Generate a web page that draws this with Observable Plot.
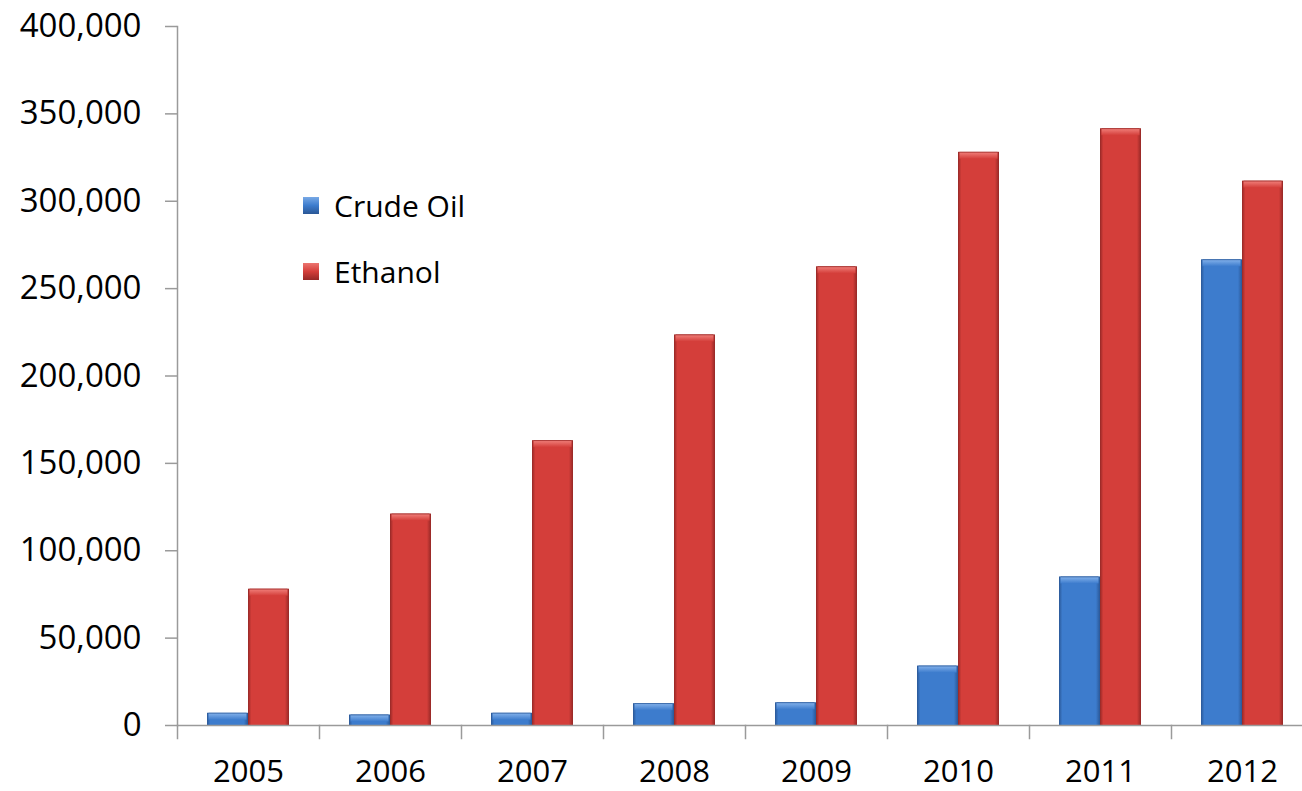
<!DOCTYPE html>
<html>
<head>
<meta charset="utf-8">
<script src="https://cdn.jsdelivr.net/npm/d3@7"></script>
<script src="https://cdn.jsdelivr.net/npm/@observablehq/plot@0.6"></script>
<style>
  html, body { margin: 0; padding: 0; overflow: hidden; background: #fff; }
  #wrap { position: relative; width: 1302px; height: 791px; overflow: hidden; font-family: "Open Sans", Lato, sans-serif; }
  #wrap svg { max-width: none !important; height: 791px !important; display: block; }
  #legend { position: absolute; left: 303px; top: 184px; font-size: 30px; color: #000; }
  .item { display: flex; align-items: center; height: 42px; margin-bottom: 24px; }
  .sw { width: 16px; height: 17px; margin-right: 15px; }
</style>
</head>
<body>
<div id="wrap"><div id="legend"></div></div>
<script>
const years = ["2005", "2006", "2007", "2008", "2009", "2010", "2011", "2012"];
const series = ["Crude Oil", "Ethanol"];
const crudeOil = [7000, 6000, 7000, 12500, 13000, 34000, 85000, 266500];
const ethanol = [78000, 121000, 163000, 223500, 262500, 328000, 341500, 311500];
const yTicks = [0, 50000, 100000, 150000, 200000, 250000, 300000, 350000, 400000];
const seriesColors = ["#3d7ccd", "#d43e3a"];
const seriesEdges = ["#2a5796", "#952826"];
const seriesLights = ["#78a9e6", "#ec7570"];

const rows = years.flatMap((year, i) => [
  {year, series: series[0], value: crudeOil[i]},
  {year, series: series[1], value: ethanol[i]}
]);

const gradIds = ["gradCrude", "gradEthanol"];
const topIds = ["topCrude", "topEthanol"];
const W = 1315, H = 791, ML = 174, MT = 26, MB = 66;
const axisColor = "#9a9a9a";
const topFill = Object.fromEntries(series.map((s, i) => [s, `url(#${topIds[i]})`]));

const chart = Plot.plot({
  width: W,
  height: H,
  marginLeft: ML,
  marginRight: 0,
  marginTop: MT,
  marginBottom: MB,
  style: {fontFamily: "'Open Sans', Lato, sans-serif", color: "#000", background: "#fff"},
  fx: {domain: years, padding: 0, label: null},
  x: {domain: series, paddingInner: 0, paddingOuter: 0.72, axis: null},
  y: {domain: [0, 400000], label: null},
  color: {domain: series, range: gradIds.map(id => `url(#${id})`)},
  marks: [
    Plot.barY(rows, {fx: "year", x: "series", y: "value", fill: "series"}),
    Plot.barY(rows, {fx: "year", x: "series", y1: "value", y2: "value", insetBottom: -7, insetLeft: 1.5, insetRight: 1.5, fill: d => topFill[d.series]}),
    Plot.ruleY([0], {stroke: axisColor, strokeWidth: 1.5}),
    Plot.frame({anchor: "left", stroke: axisColor, strokeWidth: 1.5, insetTop: H - MT - MB, insetBottom: -13}),
    Plot.frame({anchor: "left", stroke: axisColor, strokeWidth: 1.5, fx: "2005"}),
    Plot.axisY({ticks: yTicks, tickFormat: d3.format(","), tickSize: 12, tickPadding: 24, fontSize: 33, stroke: axisColor, strokeWidth: 1.5, label: null}),
    Plot.axisFx({anchor: "bottom", tickSize: 0, tickPadding: 34, fontSize: 31, label: null})
  ]
});

const defs = gradIds.map((id, i) => `
  <linearGradient id="${id}" x1="0" x2="1" y1="0" y2="0">
    <stop offset="0" stop-color="${seriesEdges[i]}"/>
    <stop offset="0.08" stop-color="${seriesColors[i]}"/>
    <stop offset="0.9" stop-color="${seriesColors[i]}"/>
    <stop offset="1" stop-color="${seriesEdges[i]}"/>
  </linearGradient>
  <linearGradient id="${topIds[i]}" x1="0" x2="0" y1="0" y2="1">
    <stop offset="0" stop-color="${seriesEdges[i]}"/>
    <stop offset="0.2" stop-color="${seriesLights[i]}"/>
    <stop offset="1" stop-color="${seriesColors[i]}"/>
  </linearGradient>`).join("");
chart.insertAdjacentHTML("afterbegin", `<defs>${defs}</defs>`);

const wrap = document.getElementById("wrap");
wrap.insertBefore(chart, wrap.firstChild);

const legend = document.getElementById("legend");
series.forEach((s, i) => {
  const item = document.createElement("div");
  item.className = "item";
  const sw = document.createElement("div");
  sw.className = "sw";
  sw.style.background = `linear-gradient(to bottom, ${seriesLights[i]}, ${seriesColors[i]} 50%, ${seriesEdges[i]})`;
  const label = document.createElement("span");
  label.textContent = s;
  item.appendChild(sw);
  item.appendChild(label);
  legend.appendChild(item);
});
</script>
</body>
</html>
